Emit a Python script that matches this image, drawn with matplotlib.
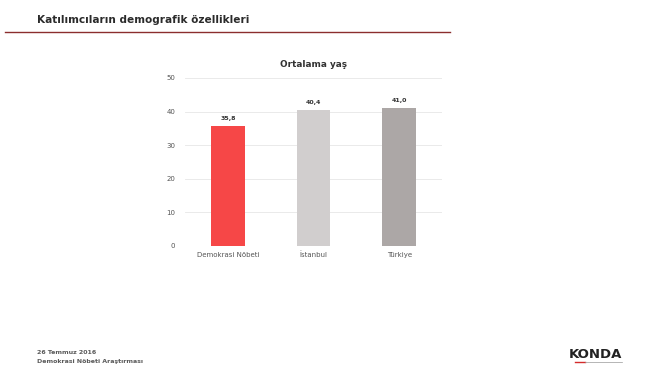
import matplotlib.pyplot as plt

# Veriler
kategoriler = ['Demokrasi Nöbeti', 'İstanbul', 'Türkiye']
ortalama_yas = [35.8, 40.4, 41.0]
etiketler = ['35,8', '40,4', '41,0']
renkler = ['#F64747', '#D1CECE', '#ACA7A6']
y_ticks = [0, 10, 20, 30, 40, 50]

plt.rcParams['font.family'] = ['DejaVu Sans']

fig = plt.figure(figsize=(6.6, 3.73), dpi=100)
fig.patch.set_facecolor('white')

# Sayfa başlığı ve çizgi
fig.text(37 / 660, 1 - 20 / 373, 'Katılımcıların demografik özellikleri',
         fontsize=7.6, fontweight='bold', color='#2b2b2b', va='center')
fig.add_artist(plt.Line2D([5 / 660, 450 / 660], [1 - 32 / 373, 1 - 32 / 373],
                          color='#8B2E2E', lw=1.0))

# Grafik
ax = fig.add_axes([185 / 660, 1 - 246 / 373, 257 / 660, 168 / 373])
x = range(len(kategoriler))
bars = ax.bar(x, ortalama_yas, width=0.39, color=renkler, zorder=3)
for b, lab in zip(bars, etiketler):
    ax.text(b.get_x() + b.get_width() / 2, b.get_height() + 1.5, lab,
            ha='center', va='bottom', fontsize=4.5, fontweight='bold', color='#333333')

ax.set_xlim(-0.5, 2.5)
ax.set_ylim(0, 50)
ax.set_yticks(y_ticks)
ax.set_xticks(list(x))
ax.set_xticklabels(kategoriler)
ax.tick_params(axis='both', length=0, labelsize=5, labelcolor='#555555')
ax.tick_params(axis='y', pad=7)
ax.tick_params(axis='x', pad=4)
ax.grid(axis='y', color='#E6E6E6', lw=0.6, zorder=0)
for s in ax.spines.values():
    s.set_visible(False)
ax.set_title('Ortalama yaş', fontsize=6.4, fontweight='bold', color='#333333', pad=8)

# Alt bilgi
fig.text(37 / 660, 1 - 352 / 373, '26 Temmuz 2016', fontsize=4.5,
         fontweight='bold', color='#5a5a5a', va='center')
fig.text(37 / 660, 1 - 362 / 373, 'Demokrasi Nöbeti Araştırması', fontsize=4.5,
         fontweight='bold', color='#5a5a5a', va='center')

# Logo
fig.text(595 / 660, 1 - 354 / 373, 'KONDA', fontsize=9.5, fontweight='bold',
         color='#222222', ha='center', va='center')
fig.add_artist(plt.Line2D([575 / 660, 585 / 660], [1 - 362 / 373, 1 - 362 / 373],
                          color='#D42B2B', lw=1.0))
fig.add_artist(plt.Line2D([585 / 660, 622 / 660], [1 - 362 / 373, 1 - 362 / 373],
                          color='#999999', lw=0.5))

plt.savefig('out.png', dpi=100)
